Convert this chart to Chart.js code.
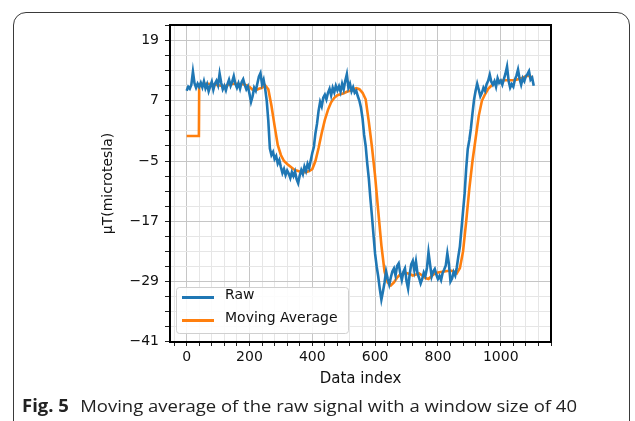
<!DOCTYPE html>
<html>
<head>
<meta charset="utf-8">
<script src="https://cdn.jsdelivr.net/npm/chart.js@4"></script>
<style>
  html, body { margin: 0; padding: 0; background: #fff; }
  #page { position: relative; width: 635px; height: 421px; overflow: hidden; background: #fff; }
  #frame { position: absolute; left: 13px; top: 12px; width: 617px; height: 460px;
           border: 1px solid #3a3a3a; border-radius: 13px; box-sizing: border-box; }
  #myChart { position: absolute; left: 0; top: 0; }
  #caption { position: absolute; left: 22px; top: 394px; white-space: nowrap;
             font-family: "Open Sans", sans-serif; font-size: 17px; color: #222;
             transform-origin: 0 0; }
  #caption b { font-weight: 700; margin-right: 6px; }
</style>
</head>
<body>
<div id="page">
  <div id="frame"></div>
  <canvas id="myChart" width="635" height="400"></canvas>
  <div id="caption"><b>Fig. 5</b> Moving average of the raw signal with a window size of 40</div>
</div>
<script>
// raw signal, read every 5 samples
const rawIndex = [];
for (let i = 0; i <= 1105; i += 5) rawIndex.push(i);
const rawValues = [
  9.0, 9.8, 9.4, 10.2, 12.8, 10.5, 9.6, 10.4, 9.8, 10.6,
  9.7, 10.9, 9.5, 10.3, 8.9, 9.9, 10.8, 9.2, 10.4, 11.0,
  10.1, 12.4, 10.6, 9.3, 10.0, 9.1, 10.3, 11.2, 10.0, 10.8,
  11.9, 10.4, 9.6, 10.5, 9.4, 10.7, 11.3, 10.2, 9.3, 9.9,
  8.4, 6.8, 7.9, 9.6, 9.0, 10.4, 11.8, 12.5, 10.3, 11.2,
  9.4, 7.0, 3.0, -2.5, -3.8, -3.2, -4.6, -4.0, -5.5, -4.8,
  -6.2, -7.4, -6.6, -7.8, -6.9, -7.5, -8.4, -7.2, -8.0, -7.1,
  -8.6, -9.4, -7.9, -6.8, -7.6, -6.1, -7.0, -5.6, -6.4, -4.9,
  -3.4, -2.2, 0.5, 2.4, 5.0, 6.8, 5.9, 7.6, 8.2, 7.3,
  8.6, 9.4, 8.1, 9.6, 8.7, 10.0, 9.1, 9.9, 8.8, 10.4,
  9.3, 11.0, 12.3, 9.6, 10.4, 8.9, 9.7, 8.6, 9.0, 7.9,
  7.0, 5.6, 3.5, 0.2, -2.0, -5.5, -8.5, -12.5, -16.0, -19.8,
  -23.5, -26.0, -28.0, -30.5, -32.6, -31.0, -29.2, -27.0, -28.4, -29.6,
  -28.2, -27.0, -26.4, -27.8, -25.9, -25.4, -27.3, -28.7, -27.1, -26.4,
  -28.9, -30.4, -27.6, -25.6, -24.9, -26.8, -25.0, -27.4, -28.3, -29.4,
  -28.5, -27.2, -27.9, -26.3, -23.2, -25.6, -28.0, -27.0, -26.5, -27.6,
  -28.5, -27.9, -28.7, -27.3, -26.6, -25.8, -23.4, -25.5, -29.0, -28.4,
  -27.1, -27.8, -26.2, -24.0, -22.0, -18.5, -15.0, -11.5, -6.5, -2.6,
  -0.8, 1.5, 4.5, 7.2, 9.0, 10.4, 9.2, 7.9, 8.6, 9.6,
  9.0, 10.3, 11.0, 12.2, 10.8, 10.2, 10.9, 9.8, 11.5, 10.6,
  11.0, 10.2, 11.3, 12.4, 13.8, 11.0, 9.6, 10.3, 9.8, 11.2,
  12.0, 13.2, 11.4, 10.2, 11.5, 10.9, 11.9, 12.3, 12.9, 11.2,
  11.6, 10.0
];

// moving average (window 40), read every 10 samples
const maIndex = [0, 39];
for (let i = 40; i <= 1100; i += 10) maIndex.push(i);
const maValues = [
  0.0, 0.0,
  10.2, 10.3, 10.4, 10.4, 10.3, 10.2, 10.1, 10.0, 9.9, 10.1,
  10.3, 10.4, 10.4, 10.3, 10.3, 10.1, 9.8, 9.2, 9.1, 9.4,
  9.6, 10.1, 9.3, 6.0, 2.0, -1.8, -3.8, -5.0, -5.6, -6.1,
  -6.6, -6.9, -7.1, -7.2, -7.2, -7.0, -6.6, -5.0, -2.4, 0.6,
  3.2, 5.2, 6.7, 7.6, 8.1, 8.3, 8.5, 8.8, 9.0, 9.2,
  9.5, 9.3, 8.6, 7.3, 2.8, -2.2, -8.0, -15.0, -21.8, -27.0,
  -29.2, -29.8, -29.2, -28.2, -27.6, -27.4, -27.3, -27.5, -27.8, -27.6,
  -27.4, -27.8, -28.3, -28.5, -27.9, -27.4, -27.2, -27.1, -27.0, -26.9,
  -26.8, -27.0, -27.4, -26.3, -23.0, -17.0, -10.5, -5.0, -0.5, 4.0,
  7.0, 8.3, 9.4, 10.0, 10.6, 10.9, 11.0, 11.1, 11.1, 11.1,
  11.1, 11.2, 11.4, 11.6, 11.9, 12.0, 11.6
];

const xTickLabels = [0, 200, 400, 600, 800, 1000];
const yTickLabels = [-41, -29, -17, -5, 7, 19];
const seriesNames = ['Raw', 'Moving Average'];
const xTitle = 'Data index';
const yTitle = 'μT(microtesla)';

const rawPoints = rawIndex.map((x, i) => ({x: x, y: rawValues[i]}));
const maPoints = maIndex.map((x, i) => ({x: x, y: maValues[i]}));

const tickFont = {family: 'DejaVu Sans', size: 14};

function minorTicks(from, to, step) {
  const out = [];
  for (let v = from; v <= to + 1e-9; v += step) out.push({value: v});
  return out;
}

const framePlugin = {
  id: 'frame',
  afterDraw(chart) {
    const a = chart.chartArea;
    const c = chart.ctx;
    c.save();
    c.strokeStyle = '#000';
    c.lineWidth = 2;
    c.strokeRect(a.left, a.top, a.right - a.left, a.bottom - a.top);

    // legend inside the plot, lower left
    const bx = 176.5, by = 287.5, bw = 172, bh = 46;
    c.fillStyle = 'rgba(255,255,255,0.85)';
    c.strokeStyle = '#d0d0d0';
    c.lineWidth = 1;
    c.beginPath();
    c.roundRect(bx, by, bw, bh, 3);
    c.fill();
    c.stroke();
    const rows = [297.5, 320.5];
    chart.data.datasets.forEach((ds, i) => {
      c.strokeStyle = ds.borderColor;
      c.lineWidth = 3;
      c.beginPath();
      c.moveTo(182, rows[i]);
      c.lineTo(214, rows[i]);
      c.stroke();
      c.fillStyle = '#111';
      c.font = '14px "DejaVu Sans"';
      c.textBaseline = 'middle';
      c.textAlign = 'left';
      c.fillText(ds.label, 225, rows[i] - 2);
    });
    c.restore();
  }
};

const ctx = document.getElementById('myChart').getContext('2d');
const myChart = new Chart(ctx, {
  type: 'line',
  data: {
    datasets: [{
      label: seriesNames[0],
      data: rawPoints,
      borderColor: '#1f77b4',
      borderWidth: 2.6,
      pointRadius: 0,
      tension: 0
    }, {
      label: seriesNames[1],
      data: maPoints,
      borderColor: '#ff7f0e',
      borderWidth: 2.6,
      pointRadius: 0,
      tension: 0
    }]
  },
  options: {
    responsive: false,
    animation: false,
    layout: {padding: {top: 25, right: 84, left: 0, bottom: 0}},
    plugins: {legend: {display: false}, tooltip: {enabled: false}},
    scales: {
      x: {
        type: 'linear',
        min: -53,
        max: 1160,
        afterBuildTicks: (scale) => { scale.ticks = minorTicks(-40, 1160, 40); },
        afterFit: (scale) => { scale.height = 58; },
        border: {display: false},
        grid: {
          color: (c) => xTickLabels.includes(c.tick.value) ? '#c6c6c6' : '#e6e6e6',
          tickColor: '#222',
          tickLength: 4,
          lineWidth: 1
        },
        ticks: {
          autoSkip: false,
          maxRotation: 0,
          padding: 3,
          color: '#111',
          font: tickFont,
          callback: (v) => xTickLabels.includes(v) ? String(v) : ''
        },
        title: {
          display: true,
          text: xTitle,
          color: '#111',
          font: {family: 'DejaVu Sans', size: 15},
          padding: {top: 0, bottom: 12}
        }
      },
      y: {
        min: -41.05,
        max: 22.1,
        afterBuildTicks: (scale) => { scale.ticks = minorTicks(-41, 22, 3); },
        afterFit: (scale) => { scale.width = 170; },
        border: {display: false},
        grid: {
          color: (c) => yTickLabels.includes(c.tick.value) ? '#c6c6c6' : '#e6e6e6',
          tickColor: '#222',
          tickLength: 5,
          lineWidth: 1
        },
        ticks: {
          autoSkip: false,
          padding: 6,
          color: '#111',
          font: tickFont,
          callback: (v) => yTickLabels.includes(v) ? (v < 0 ? '\u2212' + Math.abs(v) : String(v)) : ''
        },
        title: {
          display: true,
          text: yTitle,
          color: '#111',
          font: {family: 'DejaVu Sans', size: 14},
          padding: {top: 100, bottom: 0}
        }
      }
    }
  },
  plugins: [framePlugin]
});

// fit the caption to the width it takes in the figure
const cap = document.getElementById('caption');
const w = cap.getBoundingClientRect().width;
cap.style.transform = 'scaleX(' + (555 / w) + ')';
</script>
</body>
</html>
